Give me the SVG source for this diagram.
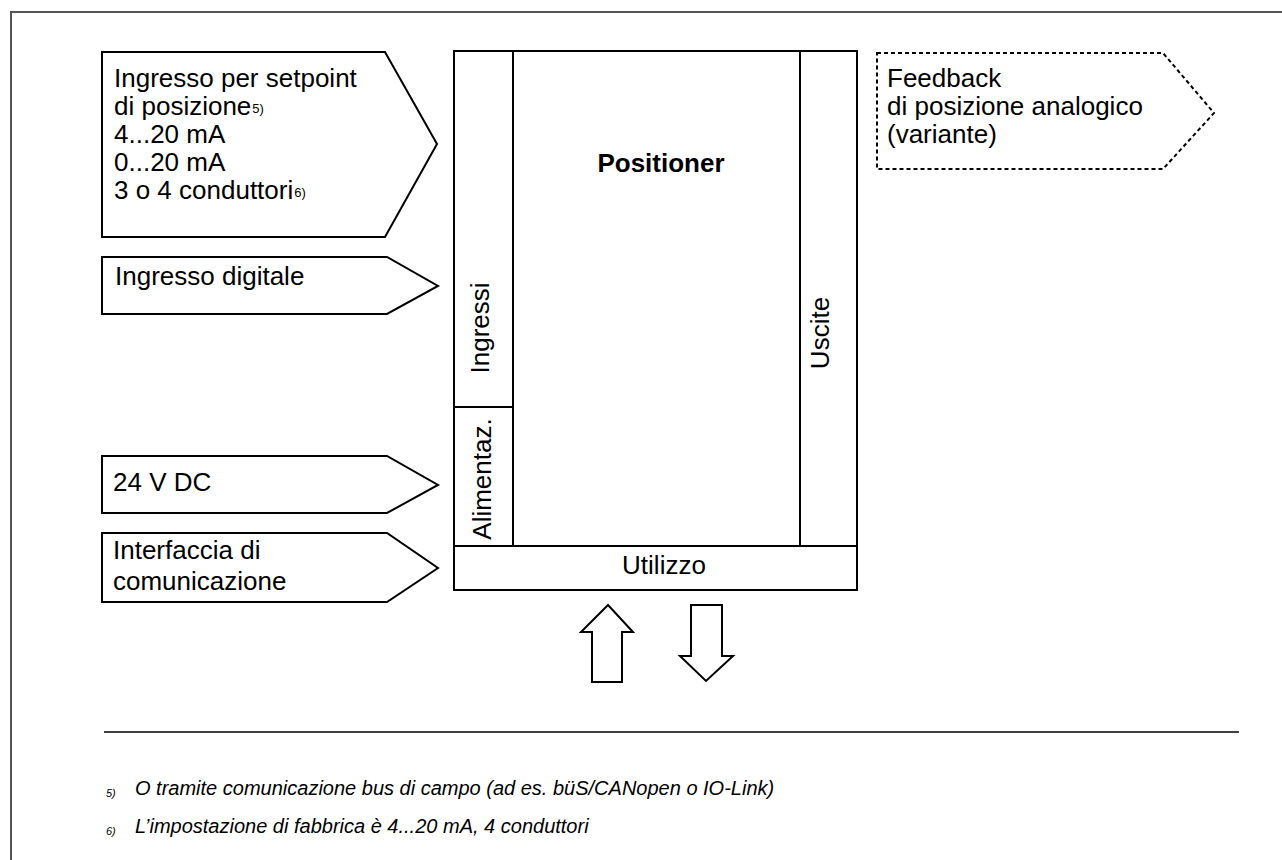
<svg xmlns="http://www.w3.org/2000/svg" width="1282" height="860" viewBox="0 0 1282 860">
<style>
text{font-family:"Liberation Sans",Arial,Helvetica,sans-serif;fill:#000}
.t{font-size:26px}
.b{font-size:26px;font-weight:bold}
.sup{font-size:13px}
.fn{font-size:20px;font-style:italic}
.fm{font-size:11px;font-style:italic}
.shape{fill:#fff;stroke:#000;stroke-width:2;stroke-linejoin:miter}
.dash{fill:#fff;stroke:#000;stroke-width:2;stroke-dasharray:4 3}
.ln{stroke:#000;stroke-width:2;fill:none}
</style>
<rect x="0" y="0" width="1282" height="860" fill="#fff"/>
<path d="M11,860 V12 H1282" fill="none" stroke="#555" stroke-width="2"/>

<g id="in-setpoint">
<polygon class="shape" points="102,52 385,52 437,144 385,237 102,237"/>
<text class="t" x="114" y="87">Ingresso per setpoint</text>
<text class="t" x="114" y="115">di posizione<tspan class="sup" dx="1" dy="-2">5)</tspan></text>
<text class="t" x="114" y="143">4...20 mA</text>
<text class="t" x="114" y="171">0...20 mA</text>
<text class="t" x="114" y="199">3 o 4 conduttori<tspan class="sup" dx="1" dy="-2">6)</tspan></text>
</g>

<g id="in-digitale">
<polygon class="shape" points="102,257 387,257 438,286 387,314 102,314"/>
<text class="t" x="115" y="285">Ingresso digitale</text>
</g>

<g id="in-24v">
<polygon class="shape" points="102,456 387,456 438,485 387,513 102,513"/>
<text class="t" x="113" y="491">24 V DC</text>
</g>

<g id="in-interfaccia">
<polygon class="shape" points="102,533 387,533 438,568 387,602 102,602"/>
<text class="t" x="113" y="559">Interfaccia di</text>
<text class="t" x="113" y="590">comunicazione</text>
</g>

<g id="positioner">
<rect class="shape" x="454" y="51" width="403" height="539"/>
<line class="ln" x1="513" y1="51" x2="513" y2="546"/>
<line class="ln" x1="800" y1="51" x2="800" y2="546"/>
<line class="ln" x1="454" y1="407" x2="513" y2="407"/>
<line class="ln" x1="454" y1="546" x2="857" y2="546"/>
<text class="b" x="661" y="172" text-anchor="middle">Positioner</text>
<text class="t" transform="translate(489,328) rotate(-90)" text-anchor="middle">Ingressi</text>
<text class="t" transform="translate(491,479) rotate(-90)" text-anchor="middle">Alimentaz.</text>
<text class="t" transform="translate(829,333) rotate(-90)" text-anchor="middle">Uscite</text>
<text class="t" x="664" y="574" text-anchor="middle">Utilizzo</text>
</g>

<g id="out-feedback">
<polygon class="dash" points="877,53 1163,53 1214,113 1163,169 877,169"/>
<text class="t" x="887" y="87">Feedback</text>
<text class="t" x="887" y="115">di posizione analogico</text>
<text class="t" x="887" y="143">(variante)</text>
</g>

<g id="connectors">
<polygon id="arrow-up" class="shape" points="608,605 633,632 622,632 622,682 592,682 592,632 581,632"/>
<polygon id="arrow-down" class="shape" points="691,605 722,605 722,656 733,656 706,681 680,656 691,656"/>
</g>

<g id="footnotes">
<line x1="104" y1="732" x2="1239" y2="732" stroke="#000" stroke-width="1.5"/>
<text class="fm" x="106" y="797">5)</text>
<text class="fn" x="135" y="795">O tramite comunicazione bus di campo (ad es. büS/CANopen o IO-Link)</text>
<text class="fm" x="106" y="835">6)</text>
<text class="fn" x="135" y="833">L’impostazione di fabbrica è 4...20 mA, 4 conduttori</text>
</g>
</svg>
